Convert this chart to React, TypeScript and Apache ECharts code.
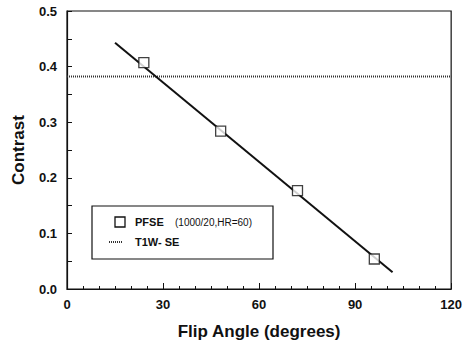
import React, { useEffect, useRef } from "react";
import * as echarts from "echarts";

const flipAngles = [24, 48, 72, 96];
const pfseContrast = [0.407, 0.284, 0.177, 0.054];
const fitLine = [
  [15, 0.443],
  [101.7, 0.03],
];
const t1wContrast = 0.382;
const xRange = [0, 120];
const yRange = [0, 0.5];

export default function App() {
  const ref = useRef<HTMLDivElement>(null);
  useEffect(() => {
    if (!ref.current) return;
    const chart = echarts.init(ref.current, null, { renderer: "svg" });
    const font = "'Liberation Sans', Arial, sans-serif";
    chart.setOption({
      animation: false,
      backgroundColor: "#fff",
      grid: {
        left: 67,
        right: 13,
        top: 11,
        bottom: 53,
        show: true,
        borderColor: "#111",
        borderWidth: 1.2,
      },
      xAxis: {
        type: "value",
        min: xRange[0],
        max: xRange[1],
        interval: 30,
        name: "Flip Angle (degrees)",
        nameLocation: "middle",
        nameGap: 34,
        nameTextStyle: { fontFamily: font, fontWeight: "bold", fontSize: 17, color: "#111" },
        axisLine: { lineStyle: { color: "#111", width: 1.2 } },
        axisTick: { inside: true, length: 6, lineStyle: { color: "#111" } },
        minorTick: { show: true, splitNumber: 6, length: 3, lineStyle: { color: "#111" } },
        splitLine: { show: false },
        axisLabel: { fontFamily: font, fontWeight: "bold", fontSize: 13, color: "#111", margin: 9 },
      },
      yAxis: {
        type: "value",
        min: yRange[0],
        max: yRange[1],
        interval: 0.1,
        name: "Contrast",
        nameLocation: "middle",
        nameGap: 40,
        nameTextStyle: { fontFamily: font, fontWeight: "bold", fontSize: 17, color: "#111" },
        axisLine: { lineStyle: { color: "#111", width: 1.2 } },
        axisTick: { inside: true, length: 5, lineStyle: { color: "#111" } },
        minorTick: { show: true, splitNumber: 2, length: 5, lineStyle: { color: "#111" } },
        splitLine: { show: false },
        axisLabel: {
          fontFamily: font,
          fontWeight: "bold",
          fontSize: 13,
          color: "#111",
          margin: 10,
          formatter: (v: number) => v.toFixed(1),
        },
      },
      series: [
        {
          name: "T1W- SE",
          type: "line",
          data: [
            [xRange[0], t1wContrast],
            [xRange[1], t1wContrast],
          ],
          symbol: "none",
          lineStyle: { color: "#333", width: 2, type: [1, 1] },
        },
        {
          name: "fit",
          type: "line",
          data: fitLine,
          symbol: "none",
          lineStyle: { color: "#111", width: 2 },
        },
        {
          name: "PFSE",
          type: "scatter",
          data: flipAngles.map((a, i) => [a, pfseContrast[i]]),
          symbol: "rect",
          symbolSize: 10,
          itemStyle: { color: "#fff", borderColor: "#111", borderWidth: 1.3 },
          z: 5,
        },
      ],
      graphic: [
        {
          type: "rect",
          shape: { x: 92, y: 206, width: 181, height: 53 },
          style: { fill: "#fff", stroke: "#111", lineWidth: 1.2 },
          z: 10,
        },
        {
          type: "rect",
          shape: { x: 115, y: 217, width: 10, height: 10 },
          style: { fill: "#fff", stroke: "#111", lineWidth: 1.3 },
          z: 11,
        },
        {
          type: "text",
          x: 135,
          y: 222,
          style: {
            text: "PFSE",
            fontFamily: font,
            fontWeight: "bold",
            fontSize: 11,
            fill: "#111",
            verticalAlign: "middle",
          },
          z: 11,
        },
        {
          type: "text",
          x: 175,
          y: 222,
          style: {
            text: "(1000/20,HR=60)",
            fontFamily: font,
            fontSize: 10,
            fill: "#111",
            verticalAlign: "middle",
          },
          z: 11,
        },
        {
          type: "line",
          shape: { x1: 109, y1: 242, x2: 123, y2: 242 },
          style: { stroke: "#333", lineWidth: 2, lineDash: [1, 1] },
          z: 11,
        },
        {
          type: "text",
          x: 135,
          y: 242,
          style: {
            text: "T1W- SE",
            fontFamily: font,
            fontWeight: "bold",
            fontSize: 11,
            fill: "#111",
            verticalAlign: "middle",
          },
          z: 11,
        },
      ],
    });
    return () => chart.dispose();
  }, []);
  return (
    <div
      ref={ref}
      style={{ position: "fixed", left: 0, top: 0, width: 465, height: 345 }}
    />
  );
}
